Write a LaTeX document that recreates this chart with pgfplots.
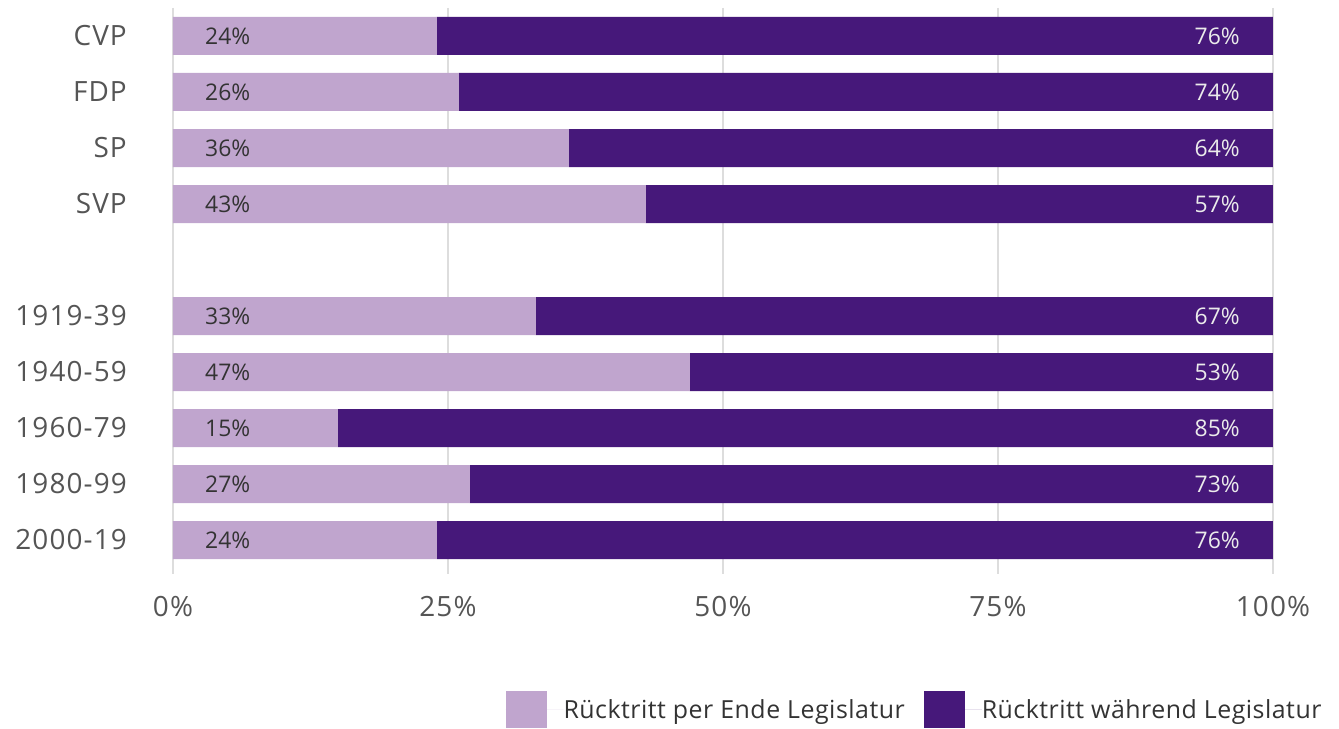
\documentclass[border=0pt]{standalone}
\usepackage{pgfplots}
\pgfplotsset{compat=1.18}
\usepackage{pgfplotstable}
\usepackage{fontspec}
\setmainfont{Open Sans}
\newfontfamily\axf[LetterSpace=4.0]{Open Sans}
\newfontfamily\legf[LetterSpace=2.0]{Open Sans}
\definecolor{lightp}{HTML}{C0A5CE}
\definecolor{darkp}{HTML}{46187A}
\definecolor{lab}{HTML}{555555}
\definecolor{gridc}{HTML}{DDDDDD}
\pgfplotstableread{
y a b
0 24 76
1 26 74
2 36 64
3 43 57
5 33 67
6 47 53
7 15 85
8 27 73
9 24 76
}\data
\begin{document}
\begin{tikzpicture}
\useasboundingbox (-173bp,-155.4bp) rectangle (1166bp,573.6bp);
\begin{axis}[
  at={(0,0)}, anchor=south west, scale only axis,
  width=1100bp, height=565.6bp,
  xbar stacked, bar width=38bp,
  xmin=0, xmax=100, ymin=-0.5, ymax=9.6, y dir=reverse,
  xtick={0,25,50,75,100},
  xticklabels={0\%,25\%,50\%,75\%,100\%},
  ytick={0,1,2,3,5,6,7,8,9},
  yticklabels={CVP,FDP,SP,SVP,1919-39,1940-59,1960-79,1980-99,2000-19},
  xmajorgrids, grid style={color=gridc, line width=1.5bp},
  major tick length=0pt,
  axis line style={draw=none},
  xticklabel style={font=\axf\fontsize{28}{32}\selectfont, text=lab, inner sep=0pt, yshift=-22bp},
  yticklabel style={font=\axf\fontsize{28}{32}\selectfont, text=lab, inner sep=0pt, xshift=-46bp},
  legend columns=2,
  legend style={at={(1.047,-0.241)}, anchor=east, draw=none, fill=none,
    font=\legf\fontsize{25}{30}\selectfont, text=black!80,
    nodes={inner sep=0pt},
    /tikz/every even column/.append style={column sep=19bp}},
]
\addplot[fill=lightp, draw=none,
  legend image code/.code={\fill[lightp] (0bp,-18.5bp) rectangle (41bp,18.5bp); \path (0bp,0bp) -- (58bp,0bp);},
  visualization depends on={\thisrow{a} \as \vna},
  nodes near coords={\pgfmathprintnumber[fixed, precision=0, assume math mode=true]{\vna}\%},
  nodes near coords style={anchor=west, xshift={32bp-5.5bp*\vna}, font=\fontsize{23}{26}\selectfont, text=black!80, inner sep=0pt}]
  table[x=a, y=y] {\data};
\addlegendentry{Rücktritt per Ende Legislatur}
\addplot[fill=darkp, draw=none,
  legend image code/.code={\fill[darkp] (0bp,-18.5bp) rectangle (41bp,18.5bp); \path (0bp,0bp) -- (58bp,0bp);},
  visualization depends on={\thisrow{b} \as \vnb},
  nodes near coords={\pgfmathprintnumber[fixed, precision=0, assume math mode=true]{\vnb}\%},
  nodes near coords style={anchor=east, xshift={5.5bp*\vnb-33bp}, font=\fontsize{23}{26}\selectfont, text=white!92!black, inner sep=0pt}]
  table[x=b, y=y] {\data};
\addlegendentry{Rücktritt während Legislatur}
\end{axis}
\end{tikzpicture}
\end{document}
